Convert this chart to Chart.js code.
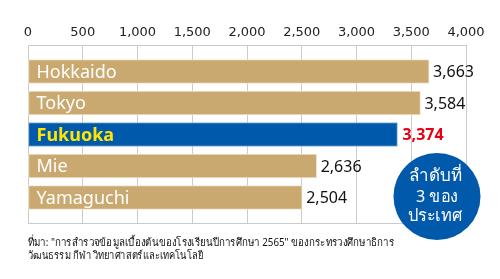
<!DOCTYPE html>
<html>
<head>
<meta charset="utf-8">
<script src="https://cdn.jsdelivr.net/npm/chart.js@4.4.0/dist/chart.umd.min.js"></script>
<style>
  html, body { margin: 0; padding: 0; background: #fff; }
  #wrap { width: 500px; height: 279px; position: relative; }
</style>
</head>
<body>
<div id="wrap"><canvas id="rankChart" width="500" height="279"></canvas></div>
<script>
// ข้อมูล
const prefectures = ["Hokkaido", "Tokyo", "Fukuoka", "Mie", "Yamaguchi"];
const schoolCounts = [3663, 3584, 3374, 2636, 2504];
const tickValues = [0, 500, 1000, 1500, 2000, 2500, 3000, 3500, 4000];
const highlight = "Fukuoka";
const badgeLines = ["ลำดับที่", "3 ของ", "ประเทศ"];
const sourceLines = [
  'ที่มา: "การสำรวจข้อมูลเบื้องต้นของโรงเรียนปีการศึกษา 2565" ของกระทรวงศึกษาธิการ',
  "วัฒนธรรม กีฬา วิทยาศาสตร์และเทคโนโลยี"
];

const TAN = "#c9a970";
const BLUE = "#0059aa";
const GRID = "#cbcbcb";
const FONT = "'Noto Sans', sans-serif";

var barData = schoolCounts.map(function (v, i) { return { x: v, y: i }; });

var labelPlugin = {
  id: "labels",
  afterDatasetsDraw: function (chart) {
    var ctx = chart.ctx;
    var meta = chart.getDatasetMeta(0);
    ctx.save();
    ctx.textBaseline = "middle";
    ctx.textAlign = "left";
    meta.data.forEach(function (bar, i) {
      var isHi = prefectures[i] === highlight;
      // ชื่อในแท่ง
      ctx.font = (isHi ? "bold " : "") + "18px " + FONT;
      ctx.fillStyle = isHi ? "#ffe500" : "#ffffff";
      ctx.fillText(prefectures[i], bar.base + 8, bar.y + 1);
      // ค่าท้ายแท่ง
      ctx.font = (isHi ? "bold " : "") + "16px " + FONT;
      ctx.fillStyle = isHi ? "#e60012" : "#111111";
      ctx.fillText(schoolCounts[i].toLocaleString("en-US"), bar.x + (isHi ? 5 : 4), bar.y + 1);
    });
    ctx.restore();
  },
  afterDraw: function (chart) {
    var ctx = chart.ctx;
    ctx.save();
    // วงกลมอันดับ
    ctx.beginPath();
    ctx.arc(437, 196.5, 43.5, 0, Math.PI * 2);
    ctx.fillStyle = BLUE;
    ctx.fill();
    ctx.fillStyle = "#ffffff";
    ctx.font = "17px " + FONT;
    ctx.textAlign = "center";
    ctx.textBaseline = "middle";
    ctx.fillText(badgeLines[0], 435, 176, 55);
    ctx.fillText(badgeLines[1], 437, 197, 42);
    ctx.fillText(badgeLines[2], 435, 216, 55);
    // แหล่งที่มา
    ctx.fillStyle = "#111111";
    ctx.font = "11px " + FONT;
    ctx.textAlign = "left";
    ctx.fillText(sourceLines[0], 28, 243, 366);
    ctx.fillText(sourceLines[1], 28, 256, 175);
    ctx.restore();
  }
};

var ctx = document.getElementById("rankChart").getContext("2d");
var rankChart = new Chart(ctx, {
  type: "bar",
  data: {
    datasets: [
      {
        data: barData,
        backgroundColor: prefectures.map(function (p) { return p === highlight ? BLUE : TAN; }),
        borderColor: prefectures.map(function (p) { return p === highlight ? "#8fb4dc" : "#efe3cc"; }),
        borderWidth: 1,
        borderSkipped: false,
        barThickness: 24
      }
    ]
  },
  options: {
    indexAxis: "y",
    responsive: false,
    animation: false,
    layout: { padding: { left: 28, right: 34, top: 0, bottom: 56 } },
    plugins: { legend: { display: false }, tooltip: { enabled: false } },
    scales: {
      x: {
        position: "top",
        min: 0,
        max: 4000,
        afterBuildTicks: function (s) { s.ticks = tickValues.map(function (v) { return { value: v }; }); },
        afterFit: function (s) { s.height = 45; },
        grid: { color: GRID, lineWidth: 1, drawTicks: false },
        border: { color: GRID },
        ticks: {
          padding: 5,
          color: "#222",
          font: { family: "'DejaVu Sans'", size: 13 },
          maxRotation: 0,
          callback: function (v) { return Number(v).toLocaleString("en-US"); }
        }
      },
      y: {
        type: "linear",
        reverse: true,
        offset: false,
        min: -0.84,
        max: 4.81,
        afterBuildTicks: function (s) { s.ticks = [{ value: -0.84 }, { value: 4.81 }]; },
        afterFit: function (s) { s.width = 0; },
        grid: { color: GRID, lineWidth: 1, drawTicks: false, offset: false },
        border: { color: GRID },
        ticks: { display: false }
      }
    }
  },
  plugins: [labelPlugin]
});
</script>
</body>
</html>
